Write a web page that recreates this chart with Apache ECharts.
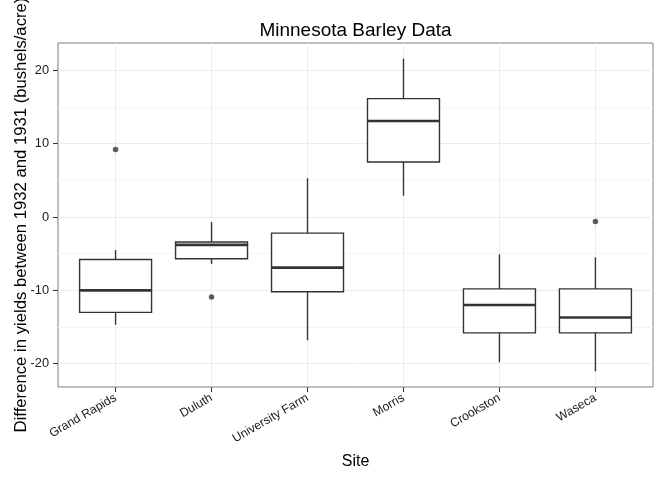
<!DOCTYPE html>
<html><head><meta charset="utf-8">
<script src="https://cdn.jsdelivr.net/npm/echarts@6/dist/echarts.min.js"></script>
<style>html,body{margin:0;padding:0;background:#fff}#c{width:672px;height:480px}</style>
</head><body><div id="c"></div>
<script>
const sites = ['Grand Rapids', 'Duluth', 'University Farm', 'Morris', 'Crookston', 'Waseca'];
const whiskerLow  = [-14.7, -6.4, -16.8, 2.9, -19.8, -21.05];
const q1          = [-13.0, -5.7, -10.2, 7.5, -15.8, -15.8];
const median      = [-10.0, -3.8, -6.9, 13.1, -12.0, -13.7];
const q3          = [-5.8, -3.4, -2.2, 16.15, -9.8, -9.8];
const whiskerHigh = [-4.5, -0.7, 5.3, 21.6, -5.1, -5.5];
const outlierSite  = ['Grand Rapids', 'Duluth', 'Waseca'];
const outlierValue = [9.2, -10.9, -0.6];
const yTicks = [-20, -10, 0, 10, 20];
const yMinorTicks = [-15, -5, 5, 15];
const xTicks = sites.map((s, i) => i);

const FONT = '"Liberation Sans", Arial, Helvetica, sans-serif';
const STROKE = '#333333';

function renderBox(params, api) {
  const i = api.value(0);
  const w = api.size([1, 0])[0] * 0.75;
  const pLo = api.coord([i, api.value(1)]);
  const pQ1 = api.coord([i, api.value(2)]);
  const pMed = api.coord([i, api.value(3)]);
  const pQ3 = api.coord([i, api.value(4)]);
  const pHi = api.coord([i, api.value(5)]);
  const x = pMed[0], l = x - w / 2, r = x + w / 2;
  return {
    type: 'group',
    children: [
      { type: 'line', shape: { x1: x, y1: pHi[1], x2: x, y2: pQ3[1] }, style: { stroke: STROKE, lineWidth: 1.4 } },
      { type: 'line', shape: { x1: x, y1: pQ1[1], x2: x, y2: pLo[1] }, style: { stroke: STROKE, lineWidth: 1.4 } },
      { type: 'rect', shape: { x: l, y: pQ3[1], width: w, height: pQ1[1] - pQ3[1] }, style: { fill: '#ffffff', stroke: STROKE, lineWidth: 1.4 } },
      { type: 'line', shape: { x1: l, y1: pMed[1], x2: r, y2: pMed[1] }, style: { stroke: STROKE, lineWidth: 2.6 } }
    ]
  };
}

const chart = echarts.init(document.getElementById('c'), null, { renderer: 'canvas' });
chart.setOption({
  animation: false,
  backgroundColor: '#ffffff',
  textStyle: { fontFamily: FONT },
  title: {
    text: 'Minnesota Barley Data',
    left: 355.5, top: 21, textAlign: 'center', padding: 0,
    textStyle: { fontFamily: FONT, fontSize: 19, fontWeight: 'normal', color: '#000' }
  },
  grid: {
    left: 58, top: 43, width: 595, height: 344,
    containLabel: false, outerBoundsMode: 'none',
    show: true, borderColor: '#7f7f7f', borderWidth: 1, backgroundColor: '#ffffff'
  },
  xAxis: {
    type: 'value', min: -0.6, max: 5.6,
    name: 'Site', nameLocation: 'middle', nameGap: 67, nameMoveOverlap: false,
    nameTextStyle: { fontFamily: FONT, fontSize: 16, color: '#000' },
    axisLine: { show: false, onZero: false },
    axisTick: { show: true, customValues: xTicks, length: 5, lineStyle: { color: STROKE, width: 1 } },
    axisLabel: {
      customValues: xTicks, formatter: v => sites[Math.round(v)],
      rotate: 30, margin: 10, fontFamily: FONT, fontSize: 12.2, color: '#1a1a1a'
    },
    splitLine: { show: true, lineStyle: { color: '#ebebeb', width: 1 } }
  },
  yAxis: [{
    type: 'value', min: -23.18, max: 23.73,
    name: 'Difference in yields between 1932 and 1931 (bushels/acre)',
    nameLocation: 'middle', nameGap: 28, nameMoveOverlap: false,
    nameTextStyle: { fontFamily: FONT, fontSize: 16.7, color: '#000' },
    axisLine: { show: false, onZero: false },
    axisTick: { show: true, customValues: yTicks, length: 5, lineStyle: { color: STROKE, width: 1 } },
    axisLabel: { customValues: yTicks, margin: 9, fontFamily: FONT, fontSize: 12.8, color: '#1a1a1a' },
    splitLine: { show: true, lineStyle: { color: '#ebebeb', width: 1 } }
  }, {
    type: 'value', min: -23.18, max: 23.73, position: 'left',
    axisLine: { show: false, onZero: false },
    axisTick: { show: false, customValues: yMinorTicks },
    axisLabel: { show: false, customValues: yMinorTicks },
    splitLine: { show: true, lineStyle: { color: '#f5f5f5', width: 1 } }
  }],
  series: [{
    type: 'custom',
    xAxisIndex: 0, yAxisIndex: 0,
    renderItem: renderBox,
    encode: { x: 0, y: [1, 2, 3, 4, 5] },
    data: sites.map((s, i) => [i, whiskerLow[i], q1[i], median[i], q3[i], whiskerHigh[i]]),
    z: 3
  }, {
    type: 'scatter',
    xAxisIndex: 0, yAxisIndex: 0,
    symbol: 'circle', symbolSize: 5.5,
    itemStyle: { color: STROKE },
    data: outlierSite.map((s, k) => [sites.indexOf(s), outlierValue[k]]),
    z: 4
  }]
});
</script>
</body></html>
